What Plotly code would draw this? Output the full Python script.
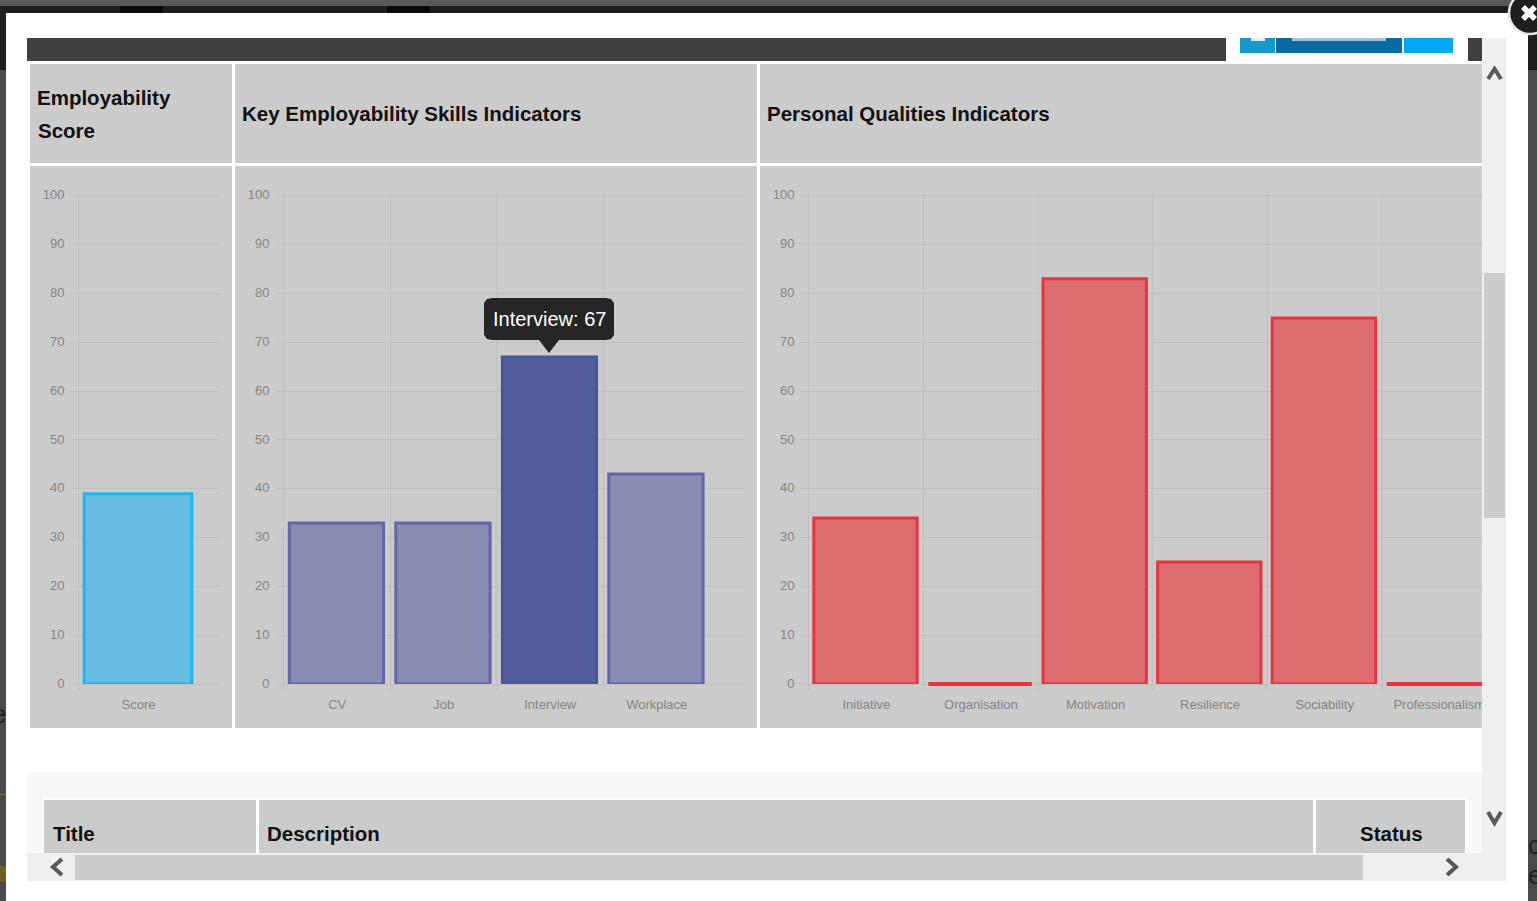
import plotly.graph_objects as go

W, H = 1537, 901

score_cats = ["Score"]
score_vals = [39]
skill_cats = ["CV", "Job", "Interview", "Workplace"]
skill_vals = [33, 33, 67, 43]
quality_cats = ["Initiative", "Organisation", "Motivation", "Resilience", "Sociability", "Professionalism"]
quality_vals = [34, 0, 83, 25, 75, 0]
y_ticks = [0, 10, 20, 30, 40, 50, 60, 70, 80, 90, 100]

score_fill = ["#66BDE1"]
score_line = ["#1FB6EE"]
skill_fill = ["#8A8BB1", "#8A8BB1", "#535C9B", "#8A8BB1"]
skill_line = ["#6066A8", "#6066A8", "#4B5699", "#6066A8"]
quality_fill = ["#DD6C71"] * 6
quality_line = ["#E83340"] * 6

CELL = "#CBCBCB"
GRID = "#BFBFBF"
TICK = "#858585"
FONT = "Liberation Sans"

px = lambda x: x / W
py = lambda y: 1 - y / H

fig = go.Figure()
shapes = []
annots = []


def rect(x0, y0, x1, y1, color, layer="below"):
    shapes.append(dict(type="rect", xref="paper", yref="paper", x0=px(x0), x1=px(x1), y0=py(y0), y1=py(y1),
                       fillcolor=color, line=dict(width=0), layer=layer))


def path(points, color=None, stroke=None, width=0, layer="above", close=True):
    d = "M " + " L ".join(f"{px(x):.5f},{py(y):.5f}" for x, y in points) + (" Z" if close else "")
    shapes.append(dict(type="path", xref="paper", yref="paper", path=d,
                       fillcolor=color if color else "rgba(0,0,0,0)",
                       line=dict(width=width, color=stroke if stroke else "rgba(0,0,0,0)"), layer=layer))


def text(x, y, s, size=20.5, color="#111111", anchor="left", bold=True):
    annots.append(dict(xref="paper", yref="paper", x=px(x), y=py(y), text=f"<b>{s}</b>" if bold else s,
                       showarrow=False, xanchor=anchor, yanchor="middle", align=anchor,
                       font=dict(family=FONT, size=size, color=color), borderpad=0, borderwidth=0))


# Page behind the modal
rect(0, 0, W, H, "#4A4A4A")
rect(0, 0, W, 6, "#5A5A5A")
rect(0, 6, W, 13, "#1E1E1E")
rect(120, 6, 163, 13, "#0A0A0A")
rect(387, 6, 430, 13, "#0A0A0A")
rect(0, 13, 6, 70, "#1F1F1F")
rect(1527, 13, W, 70, "#1E1E1E")
rect(0, 794, 6, 795, "#7A6A25")
rect(0, 866, 6, 882, "#6E6028")
rect(6, 13, 1528, H, "#FFFFFF")

# Bands above the tables
rect(27, 38, 1226, 61, "#404040")
rect(1468, 38, 1482, 61, "#404040")
rect(1240, 38, 1275, 53, "#1599CC")
rect(1276, 38, 1402, 53, "#0A6BA4")
rect(1404, 38, 1453, 53, "#00A8F5")
rect(1251, 38, 1265, 41, "#DDF0F8")
rect(1292, 38, 1386, 41, "#9CC5DD")

# Table cells
for x0, x1 in [(30, 232), (235, 757), (760, 1482)]:
    rect(x0, 64, x1, 163, CELL)
    rect(x0, 166, x1, 728, CELL)
rect(27, 772, 1482, 853, "#F7F7F7")
rect(43, 798, 1467, 853, "#FFFFFF")
for x0, x1 in [(44, 256), (259, 1313), (1316, 1465)]:
    rect(x0, 800, x1, 853, CELL)

PLOT_TOP, PLOT_BOTTOM = 191, 684
panels = [
    dict(cats=score_cats, vals=score_vals, fill=score_fill, line=score_line, left=79, right=219, cat_w=119,
         width=0.905, offset=-0.457),
    dict(cats=skill_cats, vals=skill_vals, fill=skill_fill, line=skill_line, left=284, right=744, cat_w=106.5,
         width=0.885, offset=-0.45),
    dict(cats=quality_cats, vals=quality_vals, fill=quality_fill, line=quality_line, left=809, right=1482,
         cat_w=114.6, width=0.902, offset=-0.458),
]

layout_axes = {}
for i, p in enumerate(panels, start=1):
    sfx = "" if i == 1 else str(i)
    fig.add_trace(go.Bar(x=p["cats"], y=p["vals"], width=p["width"], offset=p["offset"],
                         xaxis=f"x{sfx}", yaxis=f"y{sfx}",
                         marker=dict(color=p["fill"], line=dict(color=p["line"], width=3)),
                         showlegend=False, hoverinfo="x+y"))
    layout_axes[f"xaxis{sfx}"] = dict(
        domain=[px(p["left"]), px(p["right"])], anchor=f"y{sfx}", type="category",
        range=[-0.5, (p["right"] - p["left"]) / p["cat_w"] - 0.5],
        tickmode="array", tickvals=p["cats"], ticktext=p["cats"],
        showgrid=False, zeroline=False, showline=False, ticks="outside", ticklen=8, tickcolor="rgba(0,0,0,0)",
        tickfont=dict(family=FONT, size=13, color=TICK), tickangle=0, automargin=False)
    layout_axes[f"yaxis{sfx}"] = dict(
        domain=[py(PLOT_BOTTOM), py(PLOT_TOP)], anchor=f"x{sfx}", range=[0, 101],
        tickmode="array", tickvals=y_ticks, showgrid=True, gridcolor=GRID, gridwidth=1,
        zeroline=True, zerolinecolor=GRID, zerolinewidth=1, showline=True, linecolor=GRID, linewidth=1,
        ticks="outside", ticklen=8, tickcolor=GRID, tickwidth=1, ticklabelstandoff=3, ticklabelshift=-1,
        tickfont=dict(family=FONT, size=13, color=TICK), automargin=False)
    shapes.append(dict(type="line", xref="paper", yref="paper", x0=px(p["left"]), x1=px(p["left"]),
                       y0=py(PLOT_BOTTOM), y1=py(690), line=dict(color=GRID, width=1), layer="below"))
    for k in range(len(p["cats"]) - 1):
        shapes.append(dict(type="line", xref=f"x{sfx}", yref="paper", x0=k + 0.5, x1=k + 0.5,
                           y0=py(690), y1=py(PLOT_TOP), line=dict(color=GRID, width=1), layer="below"))
    # zero-valued bars keep a visible border line, placed through the category axis
    for k, v in enumerate(p["vals"]):
        if v == 0:
            shapes.append(dict(type="line", xref=f"x{sfx}", yref="paper",
                               x0=k + p["offset"], x1=k + p["offset"] + p["width"],
                               y0=py(PLOT_BOTTOM), y1=py(PLOT_BOTTOM),
                               line=dict(color=p["line"][k], width=4), layer="above"))

# Scrollbars sit above everything and clip the last label
rect(1482, 38, 1506, 881, "#EFEFEF", "above")
rect(27, 853, 1506, 881, "#EFEFEF", "above")
rect(1484, 273, 1505, 518, CELL, "above")
rect(75, 855, 1363, 880, CELL, "above")
rect(1506, 38, 1528, 881, "#FFFFFF", "above")
for pts in [[(1488, 79), (1494.5, 69), (1501, 79)], [(1488, 812), (1494.5, 823), (1501, 812)],
            [(62, 859), (53, 867), (62, 875)], [(1447, 859), (1456, 867), (1447, 875)]]:
    path(pts, stroke="#5A5A5A", width=4, close=False)

# Close button
shapes.append(dict(type="circle", xref="paper", yref="paper", x0=px(1509), x1=px(1551), y0=py(34), y1=py(-8),
                   fillcolor="#1E1E1E", line=dict(color="#E8E8E8", width=2.5), layer="above"))
path([(1523, 7), (1535, 19)], stroke="#FFFFFF", width=5.5, close=False)
path([(1535, 7), (1523, 19)], stroke="#FFFFFF", width=5.5, close=False)

# Tooltip
path([(492, 298), (606, 298), (611, 299), (614, 303), (614, 335), (611, 339), (606, 340), (559, 340), (549, 353),
      (539, 340), (492, 340), (487, 339), (484, 335), (484, 303), (487, 299)], color="#262626")
text(549, 319, "Interview: 67", size=20, color="#FFFFFF", anchor="center", bold=False)

# Headers
text(37, 97, "Employability")
text(38, 130, "Score")
text(242, 113.5, "Key Employability Skills Indicators")
text(767, 113.5, "Personal Qualities Indicators")
text(53, 833, "Title")
text(267, 833, "Description")
text(1360, 833, "Status")

# Slivers of the page behind
text(6, 714, "e", size=26, color="#222222", anchor="right", bold=False)
text(1528, 845, "c", size=26, color="#222222", bold=False)
text(1528, 875, "e", size=26, color="#222222", bold=False)

fig.update_layout(width=W, height=H, margin=dict(l=0, r=0, t=0, b=0), paper_bgcolor="#FFFFFF",
                  plot_bgcolor="rgba(0,0,0,0)", shapes=shapes, annotations=annots,
                  showlegend=False, **layout_axes)
fig.write_html("out.html", config={"displayModeBar": False},
               post_script="document.body.style.margin='0';document.body.style.overflow='hidden';")
